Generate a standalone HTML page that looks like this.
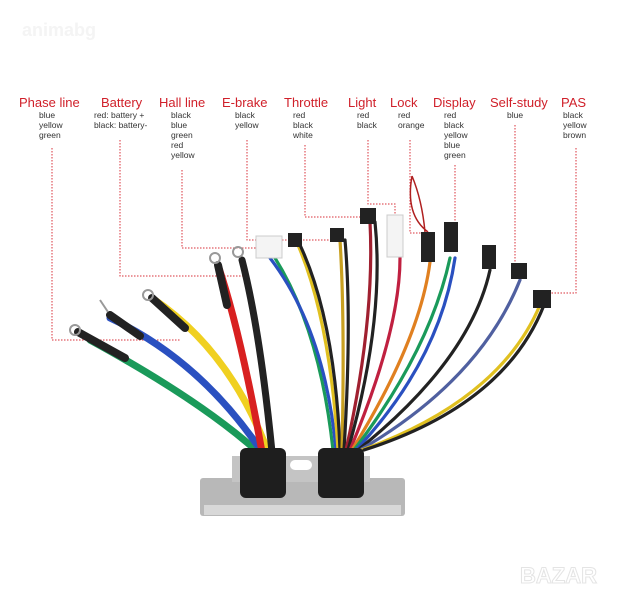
<!DOCTYPE html>
<html><head><meta charset="utf-8"><style>
html,body{margin:0;padding:0;background:#fff;}
svg{display:block}
.t{font-family:"Liberation Sans",sans-serif;fill:#d0202a;font-size:13px}
.s{font-family:"Liberation Sans",sans-serif;fill:#333;font-size:8.5px}
.d{fill:none;stroke:#d8303a;stroke-width:1;stroke-dasharray:1.5 1.5}
.w{fill:none;stroke-width:3.2;stroke-linecap:round}
.k{fill:none;stroke-width:7;stroke-linecap:round}
.h{fill:none;stroke-width:8;stroke-linecap:round}
</style></head><body>
<svg width="627" height="600" viewBox="0 0 627 600" xmlns="http://www.w3.org/2000/svg">
<text x="22" y="36" font-family="Liberation Sans,sans-serif" font-weight="bold" font-size="18" fill="#f4f4f4">animabg</text>
<text x="520" y="583" font-family="Liberation Sans,sans-serif" font-weight="bold" font-size="22" fill="#fff" stroke="#e4e4e4" stroke-width="1">BAZAR</text>

<text class="t" x="19" y="107">Phase line</text>
<text class="t" x="101" y="107">Battery</text>
<text class="t" x="159" y="107">Hall line</text>
<text class="t" x="222" y="107">E-brake</text>
<text class="t" x="284" y="107">Throttle</text>
<text class="t" x="348" y="107">Light</text>
<text class="t" x="390" y="107">Lock</text>
<text class="t" x="433" y="107">Display</text>
<text class="t" x="490" y="107">Self-study</text>
<text class="t" x="561" y="107">PAS</text>
<g class="s">
<text x="39" y="118">blue</text><text x="39" y="128">yellow</text><text x="39" y="138">green</text>
<text x="94" y="118">red: battery +</text><text x="94" y="128">black: battery-</text>
<text x="171" y="118">black</text><text x="171" y="128">blue</text><text x="171" y="138">green</text><text x="171" y="148">red</text><text x="171" y="158">yellow</text>
<text x="235" y="118">black</text><text x="235" y="128">yellow</text>
<text x="293" y="118">red</text><text x="293" y="128">black</text><text x="293" y="138">white</text>
<text x="357" y="118">red</text><text x="357" y="128">black</text>
<text x="398" y="118">red</text><text x="398" y="128">orange</text>
<text x="444" y="118">red</text><text x="444" y="128">black</text><text x="444" y="138">yellow</text><text x="444" y="148">blue</text><text x="444" y="158">green</text>
<text x="507" y="118">blue</text>
<text x="563" y="118">black</text><text x="563" y="128">yellow</text><text x="563" y="138">brown</text>
</g>

<path class="d" d="M52 148V340H180"/>
<path class="d" d="M120 140V276H245"/>
<path class="d" d="M182 170V248H258"/>
<path class="d" d="M247 140V240H335"/>
<path class="d" d="M305 145V217H370"/>
<path class="d" d="M368 140V204H395V226"/>
<path class="d" d="M410 140V233H430"/>
<path class="d" d="M455 165V237"/>
<path class="d" d="M515 125V270H522"/>
<path class="d" d="M576 148V293H550"/>

<path class="k" stroke="#1a9a5a" d="M258 452Q200 400 90 340"/>
<path class="h" stroke="#222" d="M125 358 L78 332"/>
<path class="k" stroke="#2a50c0" d="M262 452Q200 360 110 318"/>
<path class="h" stroke="#222" d="M140 336 L110 315"/>
<path class="k" stroke="#f0d020" d="M268 452Q230 350 152 298"/>
<path class="h" stroke="#222" d="M185 328 L152 298"/>
<path class="k" stroke="#d82020" d="M262 452Q240 330 218 265"/>
<path class="h" stroke="#222" d="M227 305 L218 265"/>
<path class="k" stroke="#222" d="M272 452Q260 330 242 260"/>
<circle cx="75" cy="330" r="5" fill="none" stroke="#999" stroke-width="2"/>
<path d="M108 312 L100 300" stroke="#999" stroke-width="2"/>
<circle cx="148" cy="295" r="5" fill="none" stroke="#999" stroke-width="2"/>
<circle cx="215" cy="258" r="5" fill="none" stroke="#999" stroke-width="2"/>
<circle cx="238" cy="252" r="5" fill="none" stroke="#999" stroke-width="2"/>

<path class="w" stroke="#1a9a5a" d="M333 450Q320 330 275 258"/>
<path class="w" stroke="#2a50c0" d="M336 450Q325 330 270 258"/>
<path class="w" stroke="#e0c020" d="M338 450Q330 320 298 245"/>
<path class="w" stroke="#222" d="M340 450Q335 320 300 245"/>
<path class="w" stroke="#c8a020" d="M342 450Q345 320 340 240"/>
<path class="w" stroke="#222" d="M344 450Q352 320 345 240"/>
<path class="w" stroke="#a02030" d="M346 450Q375 320 370 222"/>
<path class="w" stroke="#222" d="M348 450Q385 320 375 222"/>
<path class="w" stroke="#c02040" d="M350 450Q400 330 400 258"/>
<path class="w" stroke="#e08020" d="M352 450Q420 340 430 262"/>
<path class="w" stroke="#1a9a5a" d="M354 450Q430 350 450 258"/>
<path class="w" stroke="#2a50c0" d="M356 450Q440 360 455 258"/>
<path class="w" stroke="#222" d="M358 450Q470 360 490 270"/>
<path class="w" stroke="#5060a0" d="M360 450Q480 380 520 280"/>
<path class="w" stroke="#e0c020" d="M362 450Q500 400 540 305"/>
<path class="w" stroke="#222" d="M364 450Q505 405 544 305"/>
<path d="M412 176Q405 215 428 232M412 176Q422 200 425 232" fill="none" stroke="#b02020" stroke-width="1.5"/>

<rect x="256" y="236" width="26" height="22" fill="#f4f4f4" stroke="#ccc"/>
<rect x="387" y="215" width="16" height="42" fill="#f4f4f4" stroke="#ccc"/>
<g fill="#222">
<rect x="288" y="233" width="14" height="14"/>
<rect x="330" y="228" width="14" height="14"/>
<rect x="360" y="208" width="16" height="16"/>
<rect x="421" y="232" width="14" height="30"/>
<rect x="444" y="222" width="14" height="30"/>
<rect x="482" y="245" width="14" height="24"/>
<rect x="511" y="263" width="16" height="16"/>
<rect x="533" y="290" width="18" height="18"/>
</g>

<rect x="200" y="478" width="205" height="38" rx="3" fill="#b8b8b8"/>
<rect x="204" y="505" width="197" height="10" fill="#d8d8d8"/>
<rect x="232" y="456" width="138" height="26" fill="#c4c4c4"/>
<rect x="290" y="460" width="22" height="10" rx="5" fill="#fff"/>
<rect x="240" y="448" width="46" height="50" rx="6" fill="#1e1e1e"/>
<rect x="318" y="448" width="46" height="50" rx="6" fill="#1e1e1e"/>
</svg>
</body></html>
